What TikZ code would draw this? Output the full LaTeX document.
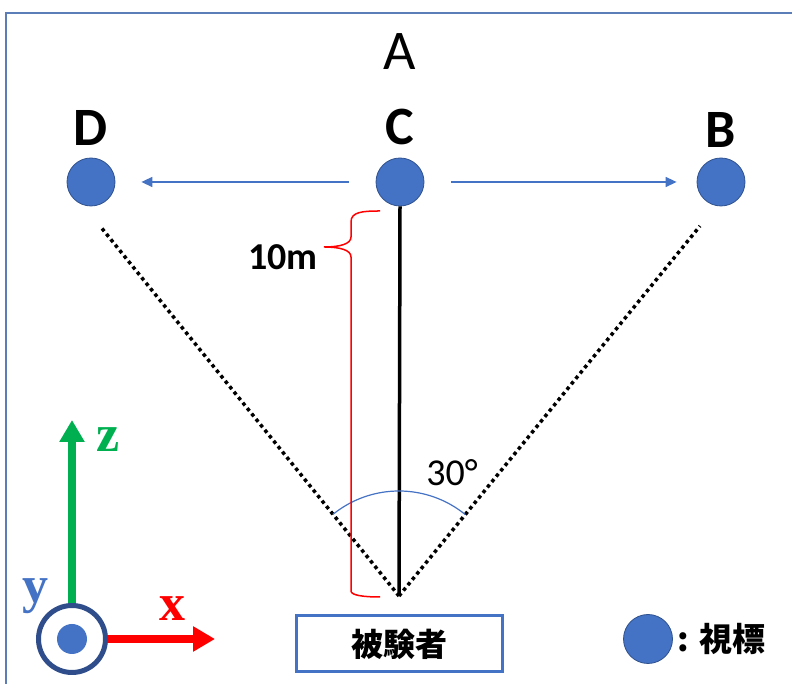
\documentclass[tikz,border=0pt]{standalone}
\usepackage{fontspec}
\setmainfont{Carlito}
\newfontfamily\jpfont{Noto Sans CJK JP}
\newfontfamily\axisfont{Liberation Serif}
\usetikzlibrary{arrows.meta,positioning}
\definecolor{tgtblue}{HTML}{4472C4}
\definecolor{tgtrim}{HTML}{2F528F}
\definecolor{framecol}{HTML}{5B7DB8}
\definecolor{ringcol}{HTML}{2F4D8A}
\definecolor{axisred}{HTML}{FF0000}
\definecolor{axisgreen}{HTML}{00B050}

\begin{document}
\begin{tikzpicture}[x=1pt, y=1pt,
    target/.style={circle, fill=tgtblue, draw=tgtrim, line width=0.8pt, minimum size=48pt, inner sep=0pt},
    letter/.style={font=\fontsize{54}{60}\selectfont\bfseries},
    shiftarrow/.style={draw=tgtblue, line width=1.5pt, -{Triangle[length=11pt,width=10pt]}},
    axisarrow/.style={line width=7.5pt, -{Triangle[length=22pt,width=24pt]}},
    axislabel/.style={font=\fontsize{52}{56}\selectfont\axisfont\bfseries},
    sightdots/.style={line width=3.5pt, dash pattern=on 3.5pt off 3.5pt}
  ]
  \useasboundingbox (0,0) rectangle (792,684);
  \draw[framecol, line width=2pt] (6,-10) |- (800,671);

  % targets
  \node[target] (tgtD) at (91,502) {};
  \node[target] (tgtC) at (400,502) {};
  \node[target] (tgtB) at (721,502) {};
  \node[letter, above=9pt of tgtD] (lblD) {D};
  \node[letter, above=9pt of tgtC] (lblC) {C};
  \node[letter, above=7pt of tgtB] (lblB) {B};
  \node[font=\fontsize{56}{60}\selectfont] (lblA) at (400,632) {A};

  \draw[shiftarrow, shorten <=27pt, shorten >=26pt] (tgtC) -- (tgtD);
  \draw[shiftarrow, shorten <=27pt, shorten >=20pt] (tgtC) -- (tgtB);

  % subject and lines of sight
  \node[draw=tgtblue, line width=3pt, minimum width=206pt, minimum height=56pt,
        font=\fontsize{32}{36}\selectfont\jpfont\bfseries] (subj) at (399,40) {被験者};
  \coordinate (eye) at (399,88);
  \coordinate (viewD) at (100,458);
  \coordinate (viewB) at (700,458);
  \draw[line width=3.5pt] (tgtC.south) -- (eye);
  \draw[sightdots] (eye) -- (viewD);
  \draw[sightdots] (eye) -- (viewB);
  \draw[tgtblue, line width=1.2pt] ([shift={(128.9:105)}]eye) arc[start angle=128.9, end angle=50.9, radius=105];
  \node[font=\fontsize{38}{42}\selectfont] (angle) at (452,211) {30°};

  % distance brace
  \draw[axisred, line width=1.5pt] (380,473) .. controls (362,473) and (351,472) .. (351,462)
    -- (351,447) .. controls (351,440) and (340,437) .. (324,437)
    .. controls (340,437) and (351,434) .. (351,427)
    -- (351,93) .. controls (351,89) and (362,87) .. (380,87);
  \node[font=\fontsize{38}{42}\selectfont\bfseries] (dist) at (283,427) {10m};

  % axes
  \node[circle, draw=ringcol, line width=5pt, fill=white, minimum size=67pt, inner sep=0pt] (org) at (72,45) {};
  \node[circle, fill=tgtblue, minimum size=30pt, inner sep=0pt] (orgdot) at (org) {};
  \coordinate (ztip) at (72,264);
  \coordinate (xtip) at (215,45);
  \draw[axisarrow, axisgreen] (org.north) -- (ztip);
  \draw[axisarrow, axisred] (org.east) -- (xtip);
  \node[axislabel, text=axisgreen] (zlbl) at (108,244) {z};
  \node[axislabel, text=axisred] (xlbl) at (172,75) {x};
  \node[axislabel, text=tgtblue] (ylbl) at (35,88) {y};

  % legend
  \node[target, minimum size=49pt] (key) at (648,45) {};
  \node[font=\fontsize{33}{36}\selectfont\jpfont\bfseries, right=1pt of key] (keytxt) {: 視標};
\end{tikzpicture}
\end{document}
